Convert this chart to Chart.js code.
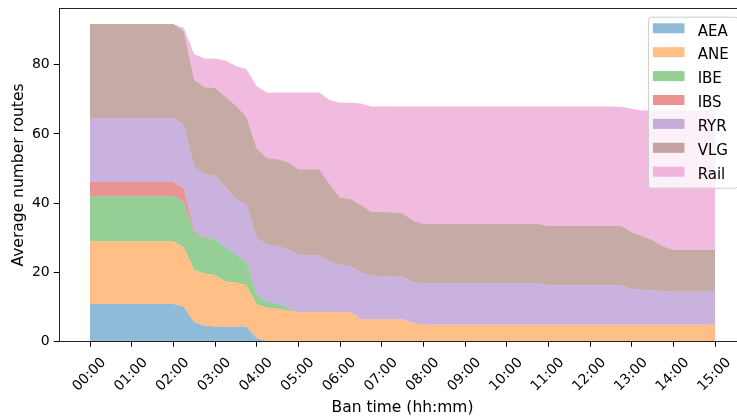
<!DOCTYPE html>
<html>
<head>
<meta charset="utf-8">
<title>Average number routes by ban time</title>
<script src="https://cdn.jsdelivr.net/npm/chart.js@4.4.1/dist/chart.umd.min.js"></script>
<style>
  html, body { margin: 0; padding: 0; background: #fff; overflow: hidden; }
  #wrap { width: 760px; height: 419px; }
</style>
</head>
<body>
<div id="wrap"><canvas id="chart" width="760" height="419"></canvas></div>
<script>
// Stacked area of average routes per operator against ban time (15-min steps).

const TIME_LABELS = [
  "00:00", "00:15", "00:30", "00:45", "01:00", "01:15", "01:30", "01:45",
  "02:00", "02:15", "02:30", "02:45", "03:00", "03:15", "03:30", "03:45",
  "04:00", "04:15", "04:30", "04:45", "05:00", "05:15", "05:30", "05:45",
  "06:00", "06:15", "06:30", "06:45", "07:00", "07:15", "07:30", "07:45",
  "08:00", "08:15", "08:30", "08:45", "09:00", "09:15", "09:30", "09:45",
  "10:00", "10:15", "10:30", "10:45", "11:00", "11:15", "11:30", "11:45",
  "12:00", "12:15", "12:30", "12:45", "13:00", "13:15", "13:30", "13:45",
  "14:00", "14:15", "14:30", "14:45", "15:00"
];

const HOUR_TICKS = ["00:00", "01:00", "02:00", "03:00", "04:00", "05:00", "06:00", "07:00",
  "08:00", "09:00", "10:00", "11:00", "12:00", "13:00", "14:00", "15:00"];

const Y_TICKS = [0, 20, 40, 60, 80];

const SERIES_LABELS = ["AEA", "ANE", "IBE", "IBS", "RYR", "VLG", "Rail"];

// one row per hour: values at :00, :15, :30, :45 (last row is 15:00)
const AEA = [
  10.9, 10.9, 10.9, 10.9,  10.9, 10.9, 10.9, 10.9,
  10.9, 10.1, 5.6, 4.6,    4.4, 4.3, 4.3, 4.3,
  1.0, 0, 0, 0,            0, 0, 0, 0,
  0, 0, 0, 0,              0, 0, 0, 0,
  0, 0, 0, 0,              0, 0, 0, 0,
  0, 0, 0, 0,              0, 0, 0, 0,
  0, 0, 0, 0,              0, 0, 0, 0,
  0, 0, 0, 0,
  0
];
const ANE = [
  18.1, 18.1, 18.1, 18.1,  18.1, 18.1, 18.1, 18.1,
  18.1, 17.1, 15.2, 15.0,  14.9, 13.1, 12.9, 12.0,
  9.8, 9.8, 9.5, 9.0,      8.6, 8.6, 8.6, 8.6,
  8.6, 8.6, 6.5, 6.5,      6.5, 6.5, 6.5, 5.4,
  4.9, 4.9, 4.9, 4.9,      4.9, 4.9, 4.9, 4.9,
  4.9, 4.9, 4.9, 4.9,      4.9, 4.9, 4.9, 4.9,
  4.9, 4.9, 4.9, 4.9,      4.9, 4.9, 4.9, 4.9,
  4.9, 4.9, 4.9, 4.9,
  4.9
];
const IBE = [
  13.0, 13.0, 13.0, 13.0,  13.0, 13.0, 13.0, 13.0,
  13.0, 13.2, 10.7, 10.4,  10.4, 9.8, 8.0, 6.8,
  2.7, 1.7, 1.5, 0.7,      0, 0, 0, 0,
  0, 0, 0, 0,              0, 0, 0, 0,
  0, 0, 0, 0,              0, 0, 0, 0,
  0, 0, 0, 0,              0, 0, 0, 0,
  0, 0, 0, 0,              0, 0, 0, 0,
  0, 0, 0, 0,
  0
];
const IBS = [
  4.1, 4.1, 4.1, 4.1,      4.1, 4.1, 4.1, 4.1,
  4.1, 3.7, 0.4, 0,        0, 0, 0, 0,
  0, 0, 0, 0,              0, 0, 0, 0,
  0, 0, 0, 0,              0, 0, 0, 0,
  0, 0, 0, 0,              0, 0, 0, 0,
  0, 0, 0, 0,              0, 0, 0, 0,
  0, 0, 0, 0,              0, 0, 0, 0,
  0, 0, 0, 0,
  0
];
const RYR = [
  18.5, 18.5, 18.5, 18.5,  18.5, 18.5, 18.5, 18.5,
  18.5, 18.5, 18.6, 18.4,  18.2, 17.5, 16.0, 16.6,
  16.5, 16.5, 16.6, 17.1,  16.5, 16.4, 16.3, 14.5,
  13.6, 13.3, 13.5, 12.6,  12.4, 12.4, 12.3, 11.8,
  11.9, 11.9, 11.9, 11.9,  11.9, 11.9, 11.9, 11.9,
  11.9, 11.9, 11.9, 11.9,  11.4, 11.4, 11.4, 11.4,
  11.4, 11.4, 11.4, 11.4,  10.4, 10.1, 10.0, 9.7,
  9.5, 9.5, 9.5, 9.5,
  9.5
];
const VLG = [
  27.2, 27.2, 27.2, 27.2,  27.2, 27.2, 27.2, 27.2,
  27.2, 27.0, 25.1, 25.1,  25.4, 26.0, 27.0, 25.3,
  25.8, 25.0, 25.1, 25.0,  24.7, 24.8, 24.9, 22.4,
  19.4, 19.3, 19.5, 18.4,  18.5, 18.5, 18.3, 17.7,
  17.2, 17.2, 17.2, 17.2,  17.2, 17.2, 17.2, 17.2,
  17.2, 17.2, 17.2, 17.2,  17.1, 17.1, 17.1, 17.1,
  17.1, 17.1, 17.1, 17.1,  16.3, 15.5, 14.4, 13.0,
  12.1, 12.1, 12.1, 12.1,
  12.1
];
const RAIL = [
  0, 0, 0, 0,              0, 0, 0, 0,
  0, 1.0, 7.4, 8.3,        8.4, 10.5, 11.4, 13.8,
  18.0, 19.0, 19.3, 20.2,  22.2, 22.2, 22.2, 24.3,
  27.4, 27.8, 29.3, 30.4,  30.5, 30.5, 30.8, 33.0,
  33.9, 33.9, 33.9, 33.9,  33.9, 33.9, 33.9, 33.9,
  33.9, 33.9, 33.9, 33.9,  34.5, 34.5, 34.5, 34.5,
  34.5, 34.5, 34.5, 34.4,  35.7, 36.3, 37.5, 39.2,
  40.3, 40.3, 40.3, 40.3,
  40.3
];

const SERIES = [AEA, ANE, IBE, IBS, RYR, VLG, RAIL];

// matplotlib tab10 at alpha 0.5
const COLORS = [
  "rgba(31,119,180,0.5)",
  "rgba(255,127,14,0.5)",
  "rgba(44,160,44,0.5)",
  "rgba(214,39,40,0.5)",
  "rgba(148,103,189,0.5)",
  "rgba(140,86,75,0.5)",
  "rgba(227,119,194,0.5)"
];

const FONT = "'DejaVu Sans', sans-serif";

function toHours(label) {
  const [h, m] = label.split(":").map(Number);
  return h + m / 60;
}

const xs = TIME_LABELS.map(toHours);

const datasets = SERIES.map((values, i) => ({
  label: SERIES_LABELS[i],
  data: values.map((v, j) => ({ x: xs[j], y: v })),
  backgroundColor: COLORS[i],
  borderColor: "rgba(0,0,0,0)",
  borderWidth: 0,
  pointRadius: 0,
  tension: 0,
  fill: i === 0 ? "origin" : "-1"
}));

// Axes frame (all four spines) drawn over the fills.
const frame = {
  id: "frame",
  afterDatasetsDraw(chart) {
    const { ctx, chartArea: a } = chart;
    ctx.save();
    ctx.strokeStyle = "#222";
    ctx.lineWidth = 1;
    const l = Math.round(a.left) + 0.5, t = Math.round(a.top) + 0.5;
    const r = Math.round(a.right) + 0.5, b = Math.round(a.bottom) - 0.5;
    ctx.strokeRect(l, t, r - l, b - t);
    ctx.restore();
  }
};

// Legend box in the upper-right corner of the axes, like matplotlib's.
const cornerLegend = {
  id: "cornerLegend",
  afterDraw(chart) {
    const { ctx, chartArea: a } = chart;
    const right = a.right - 8.8;
    const top = a.top + 8.4;
    const width = 89.5;
    const rowGap = 23.9;
    const height = 171;
    const left = right - width;
    ctx.save();
    ctx.beginPath();
    ctx.roundRect(left + 0.5, top + 0.5, width, height, 3);
    ctx.fillStyle = "rgba(255,255,255,0.8)";
    ctx.fill();
    ctx.strokeStyle = "#cccccc";
    ctx.lineWidth = 1;
    ctx.stroke();
    ctx.font = "15px " + FONT;
    ctx.textBaseline = "alphabetic";
    chart.data.datasets.forEach((ds, i) => {
      const cy = top + 13 + i * rowGap;
      ctx.fillStyle = ds.backgroundColor;
      ctx.fillRect(left + 5, cy - 6.4, 31.5, 10);
      ctx.fillStyle = "#000";
      ctx.fillText(ds.label, left + 49.7, cy + 5.8);
    });
    ctx.restore();
  }
};

// keep the plot box where the layout padding puts it (no label overhang)
function noOverhang(s) {
  s.paddingTop = 0;
  s.paddingBottom = 0;
  s.paddingLeft = 0;
  s.paddingRight = 0;
}

new Chart(document.getElementById("chart"), {
  type: "line",
  data: { datasets },
  options: {
    responsive: false,
    devicePixelRatio: 1,
    animation: false,
    events: [],
    layout: { padding: { left: 0, top: 8.3, right: 13.75, bottom: 0 } },
    scales: {
      x: {
        type: "linear",
        min: -0.75,
        max: 15.75,
        afterBuildTicks: (s) => { s.ticks = HOUR_TICKS.map((t) => ({ value: toHours(t) })); },
        afterFit: (s) => { s.height = 77.3; noOverhang(s); },
        border: { display: false },
        grid: { drawOnChartArea: false, drawTicks: true, tickLength: 5, color: "#000", tickColor: "#000" },
        ticks: {
          autoSkip: false,
          minRotation: 45,
          maxRotation: 45,
          labelOffset: 13.7,
          padding: 7.7,
          color: "#000",
          font: { family: FONT, size: 14 },
          callback: (v, i) => HOUR_TICKS[i]
        },
        title: {
          display: true,
          text: "Ban time (hh:mm)",
          color: "#000",
          font: { family: FONT, size: 15.5 },
          padding: { top: 0, bottom: 2.2 }
        }
      },
      y: {
        stacked: true,
        min: 0,
        max: 96.3,
        afterBuildTicks: (s) => { s.ticks = Y_TICKS.map((v) => ({ value: v })); },
        afterFit: (s) => { s.width = 58.75; noOverhang(s); },
        border: { display: false },
        grid: { drawOnChartArea: false, drawTicks: true, tickLength: 5, color: "#000", tickColor: "#000" },
        ticks: { padding: 4, color: "#000", font: { family: FONT, size: 14 } },
        title: {
          display: true,
          text: "Average number routes",
          color: "#000",
          font: { family: FONT, size: 15.5 },
          padding: { top: 9.5, bottom: 0 }
        }
      }
    },
    plugins: {
      legend: { display: false },
      tooltip: { enabled: false }
    }
  },
  plugins: [frame, cornerLegend]
});
</script>
</body>
</html>
